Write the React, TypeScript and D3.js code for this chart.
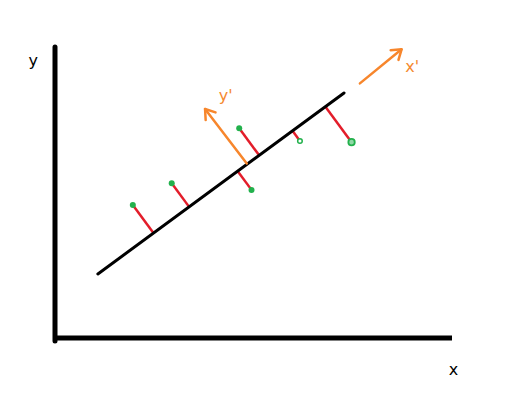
import React from "react";
import * as d3 from "d3";

const W = 522;
const H = 404;

// data-space coordinates (axis domain 0..10)
const axisDomain = [0, 10];
const fitLine = [
  { x: 1.08, y: 2.2 },
  { x: 7.28, y: 8.42 },
];
const pointsX = [1.96, 2.94, 4.95, 4.64, 6.17, 7.47];
const pointsY = [4.57, 5.32, 5.09, 7.21, 6.77, 6.73];
const pointStyle = ["dot", "dot", "dot", "dot", "ring", "big"];
const yPrimeArrow = [
  { x: 4.83, y: 6.0 },
  { x: 3.78, y: 7.87 },
];
const xPrimeArrow = [
  { x: 7.68, y: 8.75 },
  { x: 8.73, y: 9.92 },
];
const labels = [
  { text: "y", x: -0.55, y: 9.5, color: "#000" },
  { text: "x", x: 10.04, y: -1.1, color: "#000" },
  { text: "y'", x: 4.3, y: 8.3, color: "#f58a30" },
  { text: "x'", x: 9.0, y: 9.3, color: "#f58a30" },
];

const xScale = d3.scaleLinear().domain(axisDomain).range([55, 452]);
const yScale = d3.scaleLinear().domain(axisDomain).range([338, 47]);

const ORANGE = "#f7862c";
const RED = "#e31d2a";
const GREEN = "#22b14c";

function arrow(p0: { x: number; y: number }, p1: { x: number; y: number }) {
  const x0 = xScale(p0.x), y0 = yScale(p0.y);
  const x1 = xScale(p1.x), y1 = yScale(p1.y);
  const a = Math.atan2(y1 - y0, x1 - x0);
  const L = 11;
  const spread = 0.6;
  const h1 = [x1 - L * Math.cos(a - spread), y1 - L * Math.sin(a - spread)];
  const h2 = [x1 - L * Math.cos(a + spread), y1 - L * Math.sin(a + spread)];
  return (
    <g stroke={ORANGE} strokeWidth={2.5} strokeLinecap="round" fill="none">
      <line x1={x0} y1={y0} x2={x1} y2={y1} />
      <polyline points={`${h1[0]},${h1[1]} ${x1},${y1} ${h2[0]},${h2[1]}`} strokeLinejoin="round" />
    </g>
  );
}

export default function App() {
  const lx0 = xScale(fitLine[0].x), ly0 = yScale(fitLine[0].y);
  const lx1 = xScale(fitLine[1].x), ly1 = yScale(fitLine[1].y);
  const dx = lx1 - lx0, dy = ly1 - ly0;
  const len = Math.hypot(dx, dy);
  const ux = dx / len, uy = dy / len;

  const pts = pointsX.map((px, i) => {
    const x = xScale(px), y = yScale(pointsY[i]);
    const t = (x - lx0) * ux + (y - ly0) * uy;
    return { x, y, fx: lx0 + t * ux, fy: ly0 + t * uy, style: pointStyle[i] };
  });

  return (
    <svg
      width={W}
      height={H}
      style={{ position: "absolute", left: 0, top: 0, background: "#fff" }}
    >
      <rect width={W} height={H} fill="#fff" />
      {/* axes */}
      <line
        x1={xScale(0)} y1={yScale(axisDomain[1])} x2={xScale(0)} y2={yScale(0) + 3}
        stroke="#000" strokeWidth={5} strokeLinecap="round"
      />
      <line
        x1={xScale(0)} y1={yScale(0)} x2={xScale(axisDomain[1])} y2={yScale(0)}
        stroke="#000" strokeWidth={5}
      />
      {/* residuals */}
      {pts.map((p, i) => (
        <line key={"r" + i} x1={p.x} y1={p.y} x2={p.fx} y2={p.fy} stroke={RED} strokeWidth={2.5} />
      ))}
      {/* fit line */}
      <line x1={lx0} y1={ly0} x2={lx1} y2={ly1} stroke="#000" strokeWidth={3} strokeLinecap="round" />
      {/* points */}
      {pts.map((p, i) =>
        p.style === "ring" ? (
          <circle key={"p" + i} cx={p.x} cy={p.y} r={2.3} fill="#fff" stroke={GREEN} strokeWidth={1.5} />
        ) : p.style === "big" ? (
          <circle key={"p" + i} cx={p.x} cy={p.y} r={3.2} fill="#8fd9a6" stroke={GREEN} strokeWidth={1.8} />
        ) : (
          <circle key={"p" + i} cx={p.x} cy={p.y} r={3} fill={GREEN} />
        )
      )}
      {arrow(yPrimeArrow[0], yPrimeArrow[1])}
      {arrow(xPrimeArrow[0], xPrimeArrow[1])}
      {labels.map((l, i) => (
        <text
          key={"l" + i}
          x={xScale(l.x)}
          y={yScale(l.y)}
          fill={l.color}
          fontFamily="DejaVu Sans, sans-serif"
          fontSize={16}
          textAnchor="middle"
          dominantBaseline="middle"
        >
          {l.text}
        </text>
      ))}
    </svg>
  );
}
